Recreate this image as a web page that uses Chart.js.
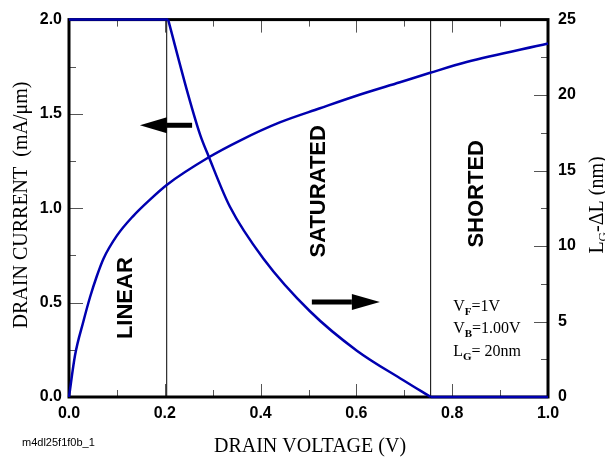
<!DOCTYPE html>
<html>
<head>
<meta charset="utf-8">
<script src="https://cdn.jsdelivr.net/npm/chart.js@4.4.0/dist/chart.umd.min.js"></script>
<style>
    html, body { margin: 0; padding: 0; background: #fff; }
    #wrap { width: 605px; height: 459px; }
</style>
</head>
<body>
<div id="wrap"><canvas id="device_chart" width="605" height="459"></canvas></div>
<script>
// Drain current (left axis, mA/um) against drain voltage
var currentV = [0, 0.0125, 0.03, 0.044, 0.058, 0.072, 0.1, 0.134, 0.169, 0.204, 0.291, 0.357, 0.44, 0.524, 0.608, 0.691, 0.754, 0.83, 1.0];
var currentI = [0, 0.22, 0.40, 0.53, 0.64, 0.733, 0.855, 0.959, 1.046, 1.124, 1.269, 1.359, 1.455, 1.53, 1.603, 1.668, 1.718, 1.775, 1.873];

// L_G - dL (right axis, nm) against drain voltage
var lengthV = [0, 0.207, 0.249, 0.2735, 0.292, 0.336, 0.406, 0.503, 0.601, 0.698, 0.755, 1.0];
var lengthNm = [25, 25, 20.0, 17.4, 15.9, 12.6, 9.16, 5.68, 3.07, 1.11, 0, 0];
// where the curve leaves the 25 nm ceiling and where it hits zero
var lengthKnees = [1, 10];

// boundaries between LINEAR / SATURATED / SHORTED
var regionEdges = [0.204, 0.755];

// tick labels
var voltTicks = [0, 0.2, 0.4, 0.6, 0.8, 1.0];
var currentTicks = [0, 0.5, 1.0, 1.5, 2.0];
var lengthTicks = [0, 5, 10, 15, 20, 25];

var curveColor = '#0000b0';
var tickFont = { family: '"Liberation Sans Narrow", "Liberation Sans", Arial', size: 16, weight: 'bold' };

function toPoints(xs, ys) {
    return xs.map(function(v, i) { return { x: v, y: ys[i] }; });
}

function setTicks(values) {
    return function(scale) {
        scale.ticks = values.map(function(v) { return { value: v }; });
    };
}

// draws a list of text parts (for subscripts), optionally rotated
function richText(ctx, parts, x, y, align, rotate) {
    ctx.save();
    ctx.translate(x, y);
    if (rotate) ctx.rotate(-Math.PI / 2);
    ctx.textAlign = 'left';
    ctx.textBaseline = 'alphabetic';
    var w = 0;
    parts.forEach(function(p) { ctx.font = p.font; w += ctx.measureText(p.text).width; });
    var cx = align === 'center' ? -w / 2 : 0;
    parts.forEach(function(p) {
        ctx.font = p.font;
        ctx.fillText(p.text, cx, p.dy || 0);
        cx += ctx.measureText(p.text).width;
    });
    ctx.restore();
}

function arrow(ctx, x1, x2, y, headLen, headHalf, shaft) {
    var dir = x2 > x1 ? 1 : -1;
    var hb = x2 - dir * headLen;
    ctx.beginPath();
    ctx.rect(Math.min(x1, hb), y - shaft / 2, Math.abs(hb - x1), shaft);
    ctx.fill();
    ctx.beginPath();
    ctx.moveTo(x2, y);
    ctx.lineTo(hb, y - headHalf);
    ctx.lineTo(hb, y + headHalf);
    ctx.closePath();
    ctx.fill();
}

var decorations = {
    id: 'decorations',
    beforeDatasetsDraw: function(chart) {
        var ctx = chart.ctx, a = chart.chartArea;
        var xs = chart.scales.x, yl = chart.scales.y, yr = chart.scales.y1;
        ctx.save();
        ctx.strokeStyle = '#555';
        ctx.lineWidth = 1;
        ctx.beginPath();
        // top and bottom: major ticks plus one minor in between
        for (var i = 0; i < voltTicks.length; i++) {
            var px = Math.round(xs.getPixelForValue(voltTicks[i])) + 0.5;
            ctx.moveTo(px, a.bottom); ctx.lineTo(px, a.bottom - 13);
            ctx.moveTo(px, a.top); ctx.lineTo(px, a.top + 13);
            if (i < voltTicks.length - 1) {
                var mx = Math.round(xs.getPixelForValue((voltTicks[i] + voltTicks[i + 1]) / 2)) + 0.5;
                ctx.moveTo(mx, a.bottom); ctx.lineTo(mx, a.bottom - 7);
                ctx.moveTo(mx, a.top); ctx.lineTo(mx, a.top + 7);
            }
        }
        for (i = 0; i < currentTicks.length; i++) {
            var py = Math.round(yl.getPixelForValue(currentTicks[i])) + 0.5;
            ctx.moveTo(a.left, py); ctx.lineTo(a.left + 14, py);
            if (i < currentTicks.length - 1) {
                var my = Math.round(yl.getPixelForValue((currentTicks[i] + currentTicks[i + 1]) / 2)) + 0.5;
                ctx.moveTo(a.left, my); ctx.lineTo(a.left + 7, my);
            }
        }
        for (i = 0; i < lengthTicks.length; i++) {
            py = Math.round(yr.getPixelForValue(lengthTicks[i])) + 0.5;
            ctx.moveTo(a.right, py); ctx.lineTo(a.right - 14, py);
            if (i < lengthTicks.length - 1) {
                my = Math.round(yr.getPixelForValue((lengthTicks[i] + lengthTicks[i + 1]) / 2)) + 0.5;
                ctx.moveTo(a.right, my); ctx.lineTo(a.right - 7, my);
            }
        }
        ctx.stroke();
        // heavy frame
        ctx.strokeStyle = '#000';
        ctx.lineWidth = 3;
        ctx.strokeRect(a.left, a.top, a.right - a.left, a.bottom - a.top);
        ctx.restore();
    },
    afterDraw: function(chart) {
        var ctx = chart.ctx;
        var xs = chart.scales.x, yl = chart.scales.y, yr = chart.scales.y1;
        ctx.save();
        ctx.fillStyle = '#000';

        // region names
        var bold = 'bold 22px "Liberation Sans", Arial';
        var regions = [['LINEAR', 0.131, 0.524], ['SATURATED', 0.534, 1.09], ['SHORTED', 0.865, 1.077]];
        regions.forEach(function(r) {
            richText(ctx, [{ text: r[0], font: bold }], xs.getPixelForValue(r[1]), yl.getPixelForValue(r[2]) , 'center', true);
        });

        // arrows pointing at the matching axis
        arrow(ctx, xs.getPixelForValue(0.257), xs.getPixelForValue(0.148), yl.getPixelForValue(1.44), 27, 8, 5);
        arrow(ctx, xs.getPixelForValue(0.507), xs.getPixelForValue(0.649), yr.getPixelForValue(6.29), 28, 8, 5);

        // device parameters
        var serif = '16px "Liberation Serif", "Times New Roman", serif';
        var sub = 'bold 11px "Liberation Serif", "Times New Roman", serif';
        var px = xs.getPixelForValue(0.802);
        richText(ctx, [{ text: 'V', font: serif }, { text: 'F', font: sub, dy: 4 }, { text: '=1V', font: serif }], px, yl.getPixelForValue(0.454), 'left');
        richText(ctx, [{ text: 'V', font: serif }, { text: 'B', font: sub, dy: 4 }, { text: '=1.00V', font: serif }], px, yl.getPixelForValue(0.339), 'left');
        richText(ctx, [{ text: 'L', font: serif }, { text: 'G', font: sub, dy: 4 }, { text: '= 20nm', font: serif }], px, yl.getPixelForValue(0.219), 'left');

        // axis titles
        var title = '20px "Liberation Serif", "Times New Roman", serif';
        var titleSub = '13px "Liberation Serif", "Times New Roman", serif';
        richText(ctx, [{ text: 'DRAIN VOLTAGE (V)', font: title }], 310, 452, 'center');
        richText(ctx, [{ text: 'DRAIN CURRENT  (mA/\u03bcm)', font: title }], 27, 205, 'center', true);
        richText(ctx, [{ text: 'L', font: title }, { text: 'G', font: titleSub, dy: 4 }, { text: '-\u0394L (nm)', font: title }], 603, 205, 'center', true);

        // figure id
        ctx.font = '11px "Liberation Sans", Arial';
        ctx.textAlign = 'left';
        ctx.textBaseline = 'alphabetic';
        ctx.fillText('m4dl25f1f0b_1', 22, 446);
        ctx.restore();
    }
};

function curve(label, pts, axis, smooth) {
    return {
        label: label,
        data: pts,
        yAxisID: axis,
        borderColor: curveColor,
        borderWidth: 2.5,
        pointRadius: 0,
        cubicInterpolationMode: smooth ? 'monotone' : 'default',
        tension: 0,
        clip: 4
    };
}

function edge(label, v) {
    return {
        label: label,
        data: toPoints([v, v], [currentTicks[0], currentTicks[currentTicks.length - 1]]),
        yAxisID: 'y',
        borderColor: '#000',
        borderWidth: 1,
        pointRadius: 0,
        tension: 0
    };
}

var lengthPts = toPoints(lengthV, lengthNm);

var chartData = {
    datasets: [
        curve('Drain current', toPoints(currentV, currentI), 'y', true),
        curve('LG - dL ceiling', lengthPts.slice(0, lengthKnees[0] + 1), 'y1', false),
        curve('LG - dL', lengthPts.slice(lengthKnees[0], lengthKnees[1] + 1), 'y1', true),
        curve('LG - dL shorted', lengthPts.slice(lengthKnees[1]), 'y1', false),
        edge('linear edge', regionEdges[0]),
        edge('short edge', regionEdges[1])
    ]
};

var chartOptions = {
    responsive: false,
    animation: false,
    layout: { padding: { top: 14, left: 0, right: 0, bottom: 0 } },
    plugins: { legend: { display: false }, tooltip: { enabled: false } },
    scales: {
        x: {
            type: 'linear', min: 0, max: 1,
            afterBuildTicks: setTicks(voltTicks),
            afterFit: function(s) { s.height = 62; },
            grid: { display: false, drawTicks: false },
            border: { display: false },
            ticks: { font: tickFont, color: '#000', padding: 7, autoSkip: false, maxRotation: 0,
                     callback: function(v) { return v.toFixed(1); } }
        },
        y: {
            type: 'linear', position: 'left', min: 0, max: 2,
            afterBuildTicks: setTicks(currentTicks),
            afterFit: function(s) { s.width = 69; },
            grid: { display: false, drawTicks: false },
            border: { display: false },
            ticks: { font: tickFont, color: '#000', padding: 7, autoSkip: false,
                     callback: function(v) { return v.toFixed(1); } }
        },
        y1: {
            type: 'linear', position: 'right', min: 0, max: 25,
            afterBuildTicks: setTicks(lengthTicks),
            afterFit: function(s) { s.width = 57; },
            grid: { display: false, drawTicks: false },
            border: { display: false },
            ticks: { font: tickFont, color: '#000', padding: 10, autoSkip: false }
        }
    }
};

var ctx = document.getElementById('device_chart').getContext('2d');
new Chart(ctx, { type: 'line', data: chartData, options: chartOptions, plugins: [decorations] });
</script>
</body>
</html>
